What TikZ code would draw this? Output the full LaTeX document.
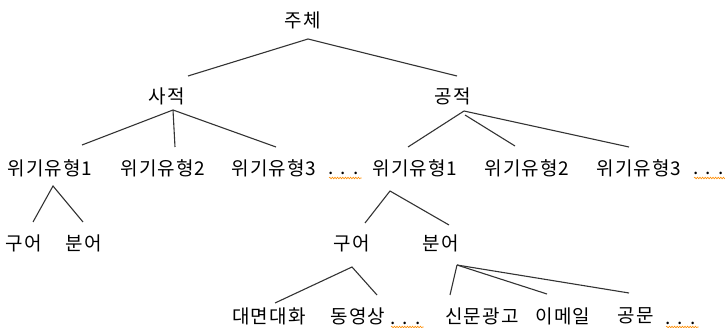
\documentclass[tikz,border=0pt]{standalone}
\usepackage{fontspec}
\setmainfont{Noto Sans CJK KR}[LetterSpace=6]
\usetikzlibrary{calc,decorations.pathmorphing}
\tikzset{
  lbl/.style={inner sep=0pt, font=\fontsize{19}{21}\selectfont},
  dotsl/.style={inner sep=0pt, anchor=base west, font=\fontsize{19}{21}\selectfont},
  edge/.style={draw=black!80, line width=1.1pt},
  squiggle/.style={draw=orange!90!yellow, line width=0.6pt, decorate,
    decoration={snake,amplitude=0.8pt,segment length=2.6pt}}
}
\begin{document}
\begin{tikzpicture}[x=1pt,y=-1pt]
\useasboundingbox (0,0) rectangle (725,328);
% nodes
\node[lbl] (root) at (303,20) {주체};
\node[lbl] (sa) at (167,96) {사적};
\node[lbl] (gong) at (453,96) {공적};
\node[lbl] (l1) at (50,168) {위기유형1};
\node[lbl] (l2) at (163,168) {위기유형2};
\node[lbl] (l3) at (274,168) {위기유형3};
\node[dotsl] (ldots) at (328,175) {. . .};
\node[lbl] (r1) at (415,168) {위기유형1};
\node[lbl] (r2) at (527,168) {위기유형2};
\node[lbl] (r3) at (639,168) {위기유형3};
\node[dotsl] (rdots) at (693,175) {. . .};
\node[lbl] (lgu) at (24,243) {구어};
\node[lbl] (lbun) at (84,243) {분어};
\node[lbl] (rgu) at (352,243) {구어};
\node[lbl] (rbun) at (441,243) {분어};
\node[lbl] (d1) at (269,316) {대면대화};
\node[lbl] (d2) at (358,316) {동영상};
\node[dotsl] (ddots) at (390,324) {. . .};
\node[lbl] (e1) at (482,316) {신문광고};
\node[lbl] (e2) at (563,316) {이메일};
\node[lbl] (e3) at (636,316) {공문};
\node[dotsl] (edots) at (665,324) {. . .};
% connectors
\draw[edge] ($(sa)+(21,-20)$) -- ($(root)+(5,19)$) -- ($(gong)+(4,-20)$);
\draw[edge] ($(sa)+(6,14)$) -- ($(l1)+(32,-23)$);
\draw[edge] ($(sa)+(6,14)$) -- ($(l2)+(12,-21)$);
\draw[edge] ($(sa)+(6,14)$) -- ($(l3)+(2,-21)$);
\draw[edge] ($(gong)+(11,15)$) -- ($(r1)+(-7,-21)$);
\draw[edge] ($(gong)+(12,19)$) -- ($(r2)+(-12,-22)$);
\draw[edge] ($(gong)+(11,15)$) -- ($(r3)+(-10,-21)$);
\draw[edge] ($(lgu)+(9,-21)$) -- ($(l1)+(3,18)$) -- ($(lbun)+(-1,-21)$);
\draw[edge] ($(rgu)+(13,-20)$) -- ($(r1)+(-25,23)$) -- ($(rbun)+(8,-18)$);
\draw[edge] ($(d1)+(6,-13)$) -- ($(rgu)+(0,24)$) -- ($(d2)+(19,-21)$);
\draw[edge] ($(rbun)+(16,22)$) -- ($(e1)+(-32,-21)$);
\draw[edge] ($(rbun)+(16,22)$) -- ($(e2)+(-16,-22)$);
\draw[edge] ($(rbun)+(16,22)$) -- ($(e3)+(-7,-23)$);
% spell-check squiggles under the ellipses
\foreach \d in {ldots,rdots,ddots,edots}
  \draw[squiggle] ($(\d.base west)+(1,3)$) -- ($(\d.base east)+(3,3)$);
\end{tikzpicture}
\end{document}
